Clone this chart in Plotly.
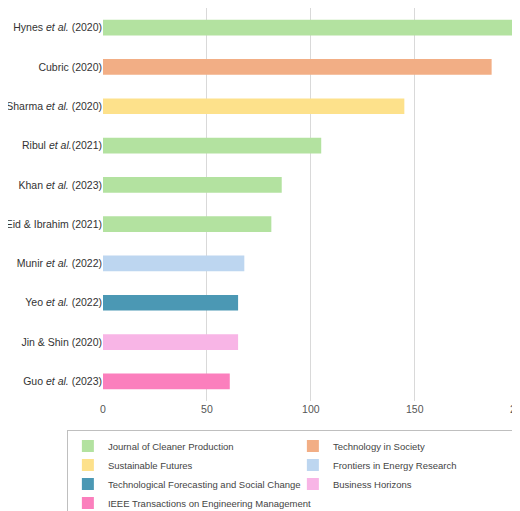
import plotly.graph_objects as go

studies = ["Hynes <i>et al.</i> (2020)", "Cubric (2020)", "Sharma <i>et al.</i> (2020)",
           "Ribul <i>et al.</i>(2021)", "Khan <i>et al.</i> (2023)", "Eid & Ibrahim (2021)",
           "Munir <i>et al.</i> (2022)", "Yeo <i>et al.</i> (2022)", "Jin & Shin (2020)",
           "Guo <i>et al.</i> (2023)"]
citations = [204, 187, 145, 105, 86, 81, 68, 65, 65, 61]
journals = ["Journal of Cleaner Production", "Technology in Society", "Sustainable Futures",
            "Journal of Cleaner Production", "Journal of Cleaner Production",
            "Journal of Cleaner Production", "Frontiers in Energy Research",
            "Technological Forecasting and Social Change", "Business Horizons",
            "IEEE Transactions on Engineering Management"]
journal_order = ["Journal of Cleaner Production", "Technology in Society", "Sustainable Futures",
                 "Frontiers in Energy Research", "Technological Forecasting and Social Change",
                 "Business Horizons", "IEEE Transactions on Engineering Management"]
colors = {
    "Journal of Cleaner Production": "#b3e2a0",
    "Technology in Society": "#f2ae85",
    "Sustainable Futures": "#fde18b",
    "Frontiers in Energy Research": "#bdd6f0",
    "Technological Forecasting and Social Change": "#4b98b4",
    "Business Horizons": "#f8b5e6",
    "IEEE Transactions on Engineering Management": "#fb7fbd",
}

fig = go.Figure()
for j in journal_order:
    ys = [s for s, jj in zip(studies, journals) if jj == j]
    xs = [c for c, jj in zip(citations, journals) if jj == j]
    fig.add_trace(go.Bar(x=xs, y=ys, name=j, orientation="h", width=0.4,
                         marker=dict(color=colors[j], line=dict(width=0))))

fig.update_layout(
    width=520, height=511,
    margin=dict(l=95, r=0, t=0, b=111),
    plot_bgcolor="white", paper_bgcolor="white",
    font=dict(family="Liberation Sans, Arial", size=10.5, color="#333"),
    barmode="overlay",
    xaxis=dict(range=[0, 204.5], tickvals=[0, 50, 100, 150, 200], showgrid=True,
               gridcolor="#d9d9d9", zeroline=False, showline=False, automargin=False,
               tickfont=dict(color="#555"), ticks=""),
    yaxis=dict(categoryorder="array", categoryarray=studies[::-1], ticks="",
               showline=False, showgrid=False, automargin=False,
               tickfont=dict(color="#333")),
    legend=dict(orientation="h", x=-0.085, y=-0.075, xanchor="left", yanchor="top",
                entrywidth=180, bordercolor="#bfbfbf", borderwidth=1, tracegroupgap=0,
                font=dict(size=9.5, color="#444"), itemwidth=30, traceorder="normal"),
)
fig.write_html("out.html")
